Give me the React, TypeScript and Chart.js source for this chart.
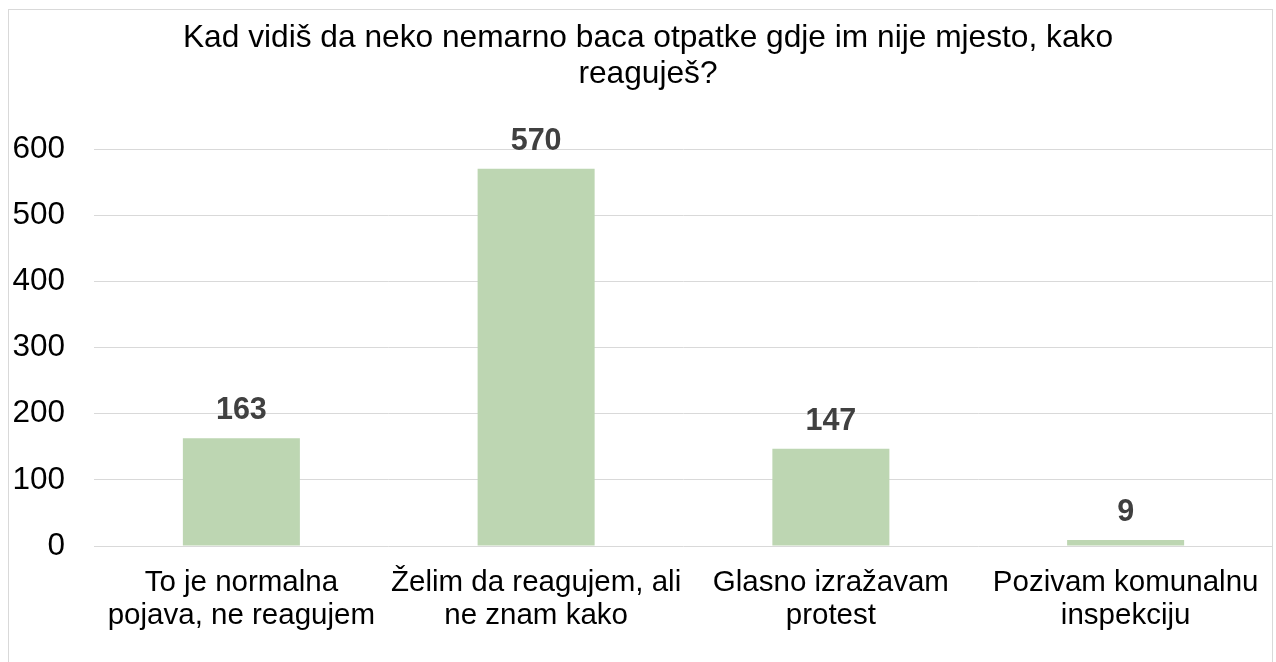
import React, { useEffect, useRef } from "react";
import { Chart, registerables } from "chart.js";

Chart.register(...registerables);

const titleLines = ["Kad vidiš da neko nemarno baca otpatke gdje im nije mjesto, kako", "reaguješ?"];
const categories = [
  ["To je normalna", "pojava, ne reagujem"],
  ["Želim da reagujem, ali", "ne znam kako"],
  ["Glasno izražavam", "protest"],
  ["Pozivam komunalnu", "inspekciju"],
];
const values = [163, 570, 147, 9];
const yTicks = [0, 100, 200, 300, 400, 500, 600];

const FONT = "'Liberation Sans', Arial, sans-serif";
const FS = 31.5;
const XFS = 29.5;

const frame = {
  id: "frame",
  beforeDraw(chart: any) {
    const ctx = chart.ctx;
    ctx.save();
    ctx.fillStyle = "#ffffff";
    ctx.fillRect(0, 0, chart.width, chart.height);
    ctx.strokeStyle = "#d9d9d9";
    ctx.lineWidth = 1;
    ctx.strokeRect(8.5, 9.5, 1264, chart.height + 20);
    ctx.restore();
  },
};

const titlePlugin = {
  id: "customTitle",
  afterDraw(chart: any) {
    const ctx = chart.ctx;
    ctx.save();
    ctx.font = `31.7px ${FONT}`;
    ctx.fillStyle = "#000000";
    ctx.textAlign = "center";
    ctx.textBaseline = "alphabetic";
    titleLines.forEach((line, i) => {
      ctx.fillText(line, 648, 47 + i * 36);
    });
    ctx.restore();
  },
};

const dataLabels = {
  id: "dataLabels",
  afterDatasetsDraw(chart: any) {
    const ctx = chart.ctx;
    const meta = chart.getDatasetMeta(0);
    ctx.save();
    ctx.font = `bold 30.5px ${FONT}`;
    ctx.fillStyle = "#404040";
    ctx.textAlign = "center";
    ctx.textBaseline = "alphabetic";
    meta.data.forEach((bar: any, i: number) => {
      ctx.fillText(String(chart.data.datasets[0].data[i]), bar.x, bar.y - 19);
    });
    ctx.restore();
  },
};

export default function App() {
  const ref = useRef<HTMLCanvasElement>(null);
  useEffect(() => {
    if (!ref.current) return;
    const chart = new Chart(ref.current, {
      type: "bar",
      data: {
        labels: categories as any,
        datasets: [
          {
            data: values,
            backgroundColor: "#bdd6b2",
            barPercentage: 0.397,
            categoryPercentage: 1,
          },
        ],
      },
      options: {
        animation: false,
        responsive: false,
        layout: { padding: { left: 0, right: 3, top: 149, bottom: 0 } },
        plugins: {
          legend: { display: false },
          tooltip: { enabled: false },
          title: { display: false },
        },
        scales: {
          x: {
            grid: { display: false },
            border: { display: false },
            afterFit: (s: any) => {
              s.height = 116;
              s.paddingLeft = 0;
              s.paddingRight = 0;
            },
            ticks: {
              color: "#000000",
              font: { family: FONT, size: XFS, lineHeight: 33 / XFS },
              padding: 12,
              maxRotation: 0,
              autoSkip: false,
            },
          },
          y: {
            min: 0,
            max: 600,
            afterBuildTicks: (s: any) => {
              s.ticks = yTicks.map((v) => ({ value: v }));
            },
            afterFit: (s: any) => {
              s.width = 94;
              s.paddingTop = 0;
              s.paddingBottom = 0;
            },
            grid: { color: "#d9d9d9", lineWidth: 1, drawTicks: false },
            border: { display: false },
            ticks: {
              color: "#000000",
              font: { family: FONT, size: FS },
              padding: 29,
            },
          },
        },
      },
      plugins: [frame, dataLabels, titlePlugin],
    });
    return () => chart.destroy();
  }, []);
  return (
    <div style={{ position: "absolute", left: 0, top: 0, width: 1276, height: 662 }}>
      <canvas ref={ref} width={1276} height={662} />
    </div>
  );
}
